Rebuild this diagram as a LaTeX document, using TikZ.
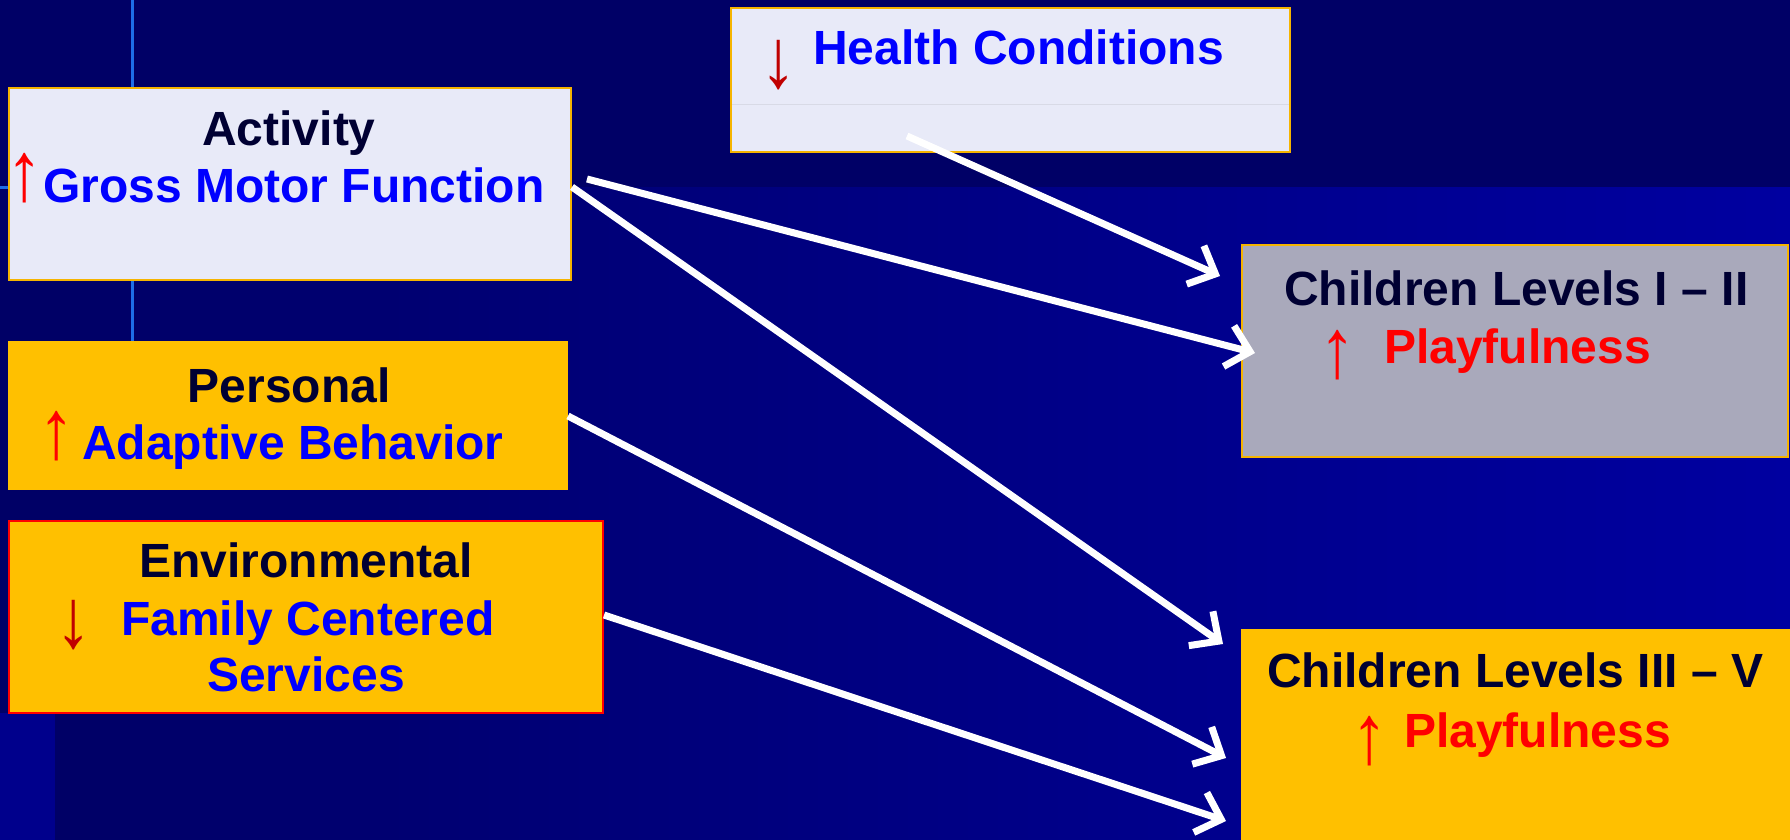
\documentclass[tikz,border=0pt]{standalone}
\usepackage{fontspec}
\setmainfont{Liberation Sans}
\newfontfamily\arrfont{Liberation Sans}
\usetikzlibrary{arrows.meta,calc,fit}
\definecolor{bgdark}{HTML}{000066}
\definecolor{bglight}{HTML}{0000A0}
\definecolor{bgstrip}{HTML}{00008C}
\definecolor{vline}{HTML}{1E6EE8}
\definecolor{lav}{HTML}{E8EAF8}
\definecolor{gold}{HTML}{FFC000}
\definecolor{greyb}{HTML}{A9A9BB}
\definecolor{edge}{HTML}{F5B400}
\definecolor{txtdark}{HTML}{000033}
\definecolor{txtblue}{HTML}{0000FF}
\definecolor{brightred}{HTML}{FF0000}
\definecolor{darkred}{HTML}{C00000}
\newcommand{\tallarrow}[1]{\scalebox{1.3}[1.5]{#1}}
\begin{document}
\begin{tikzpicture}[x=1pt,y=-1pt,
  box/.style={inner sep=0pt, line width=2pt},
  t/.style={font=\fontsize{48}{50}\selectfont\bfseries, inner sep=0pt},
  dk/.style={t, text=txtdark},
  bl/.style={t, text=txtblue},
  rd/.style={t, text=brightred},
  updown/.style={font=\arrfont\fontsize{56}{58}\selectfont, inner sep=0pt, anchor=center},
  flow/.style={draw=white, line width=7pt, -{Straight Barb[length=22pt,width=42pt]}}
]
\useasboundingbox (0,0) rectangle (1790,840);
% background
\fill[bgdark] (0,0) rectangle (1790,840);
\shade[left color=bgdark, right color=bglight] (55,187) rectangle (1790,840);
\fill[bgstrip] (0,713) rectangle (55,840);
\draw[vline, line width=3pt] (132,0) -- (132,342);
\draw[vline, line width=3pt] (0,187) -- (9,187);

% boxes
\node[box, draw=edge, fill=lav, fit={(731,8) (1290,152)}] (hc) {};
\draw[color=lav!85!gray, line width=1pt] (732,105) -- (1289,105);
\node[box, draw=edge, fill=lav, fit={(9,88) (571,280)}] (act) {};
\node[box, draw=gold, fill=gold, fit={(9,342) (567,489)}] (pers) {};
\node[box, draw=brightred, fill=gold, fit={(9,521) (603,713)}] (env) {};
\node[box, draw=edge, fill=greyb, fit={(1242,245) (1788,457)}] (c12) {};
\node[box, draw=gold, fill=gold, fit={(1242,630) (1792,842)}] (c35) {};

% texts
\node[bl, anchor=base west] (hcT) at (813,65) {Health Conditions};
\node[updown, text=darkred] (hcA) at (779,65) {\tallarrow{↓}};

\node[dk, anchor=base] (actT) at (289,146) {Activity};
\node[bl, anchor=base west] (actB) at (43,202) {Gross Motor Function};
\node[updown, text=brightred] (actA) at (25,178) {\tallarrow{↑}};

\node[dk, anchor=base] (persT) at (289,402) {Personal};
\node[bl, anchor=base west] (persB) at (82,459) {Adaptive Behavior};
\node[updown, text=brightred] (persA) at (57,436) {\tallarrow{↑}};

\node[dk, anchor=base] (envT) at (306,577) {Environmental};
\node[bl, anchor=base west] (envB) at (121,635) {Family Centered};
\node[bl, anchor=base] (envC) at (306,691) {Services};
\node[updown, text=darkred] (envA) at (74,625) {\tallarrow{↓}};

\node[dk, anchor=base west] (c12T) at (1284,305) {Children Levels I – II};
\node[rd, anchor=base west] (c12P) at (1384,363) {Playfulness};
\node[updown, text=brightred] (c12A) at (1338,355) {\tallarrow{↑}};

\node[dk, anchor=base west] (c35T) at (1267,687) {Children Levels III – V};
\node[rd, anchor=base west] (c35P) at (1404,747) {Playfulness};
\node[updown, text=brightred] (c35A) at (1370,741) {\tallarrow{↑}};

% connectors
\draw[flow] ($(hc.south west)+(177,-17)$) -- ($(c12.north west)+(-21,32)$);
\draw[flow] ($(act.north east)+(15,92)$) -- ($(c12.north west)+(14,109)$);
\draw[flow] ($(act.north east)+(0,100)$) -- ($(c35.north west)+(-18,15)$);
\draw[flow] ($(pers.north east)+(0,75)$) -- ($(c35.north west)+(-15,129)$);
\draw[flow] ($(env.north east)+(0,95)$) -- ($(c35.north west)+(-15,192)$);
\end{tikzpicture}
\end{document}
